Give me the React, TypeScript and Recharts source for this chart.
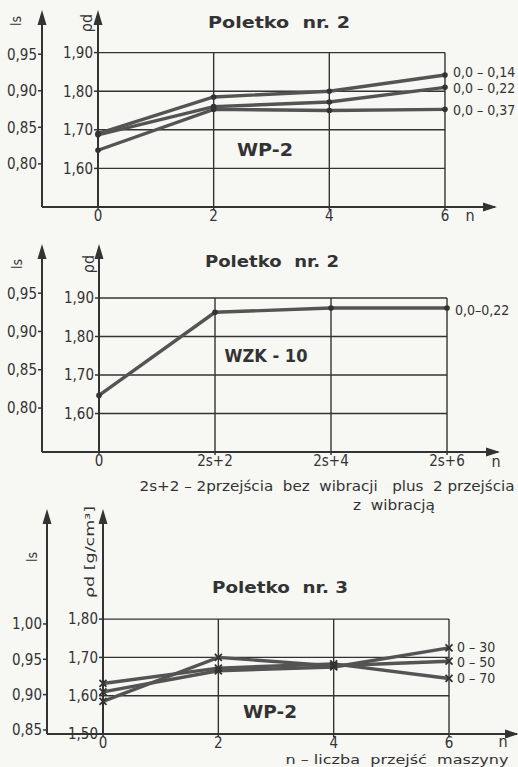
import React from 'react';
import { LineChart, Line, XAxis, YAxis, ReferenceLine, LabelList } from 'recharts';

// n – number of machine passes (x positions of the measurement points)
const passes = [0, 2, 4, 6];
const passLabels = ['0', '2', '4', '6'];
const vibLabels = ['0', '2s+2', '2s+4', '2s+6'];

// Poletko nr. 2, WP-2 (ρd)
const wp2Rho014 = [1.69, 1.785, 1.8, 1.842];
const wp2Rho022 = [1.687, 1.76, 1.772, 1.81];
const wp2Rho037 = [1.647, 1.753, 1.75, 1.753];
const wp2Names = ['0,0 – 0,14', '0,0 – 0,22', '0,0 – 0,37'];

// Poletko nr. 2, WZK-10 (ρd)
const wzkRho022 = [1.647, 1.863, 1.874, 1.874];
const wzkNames = ['0,0–0,22'];

// Poletko nr. 3, WP-2 (ρd)
const p3Rho030 = [1.61, 1.665, 1.675, 1.725];
const p3Rho050 = [1.585, 1.7, 1.678, 1.69];
const p3Rho070 = [1.632, 1.672, 1.683, 1.645];
const p3Names = ['0 – 30', '0 – 50', '0 – 70'];

const rhoTicksA = [1.6, 1.7, 1.8, 1.9];
const lsTicksA = [0.8, 0.85, 0.9, 0.95];
const rhoTicksB = [1.5, 1.6, 1.7, 1.8];
const lsTicksB = [0.85, 0.9, 0.95, 1.0];

const INK = '#333333';
const LINE = '#545454';
const PAPER = '#f7f7f4';
const NARROW = '"DejaVu Sans Condensed", "DejaVu Sans", sans-serif';
const SANS = '"DejaVu Sans", sans-serif';
const X_AXIS_H = 20;

// axis ids: recharts stacks left axes in id order, first one next to the plot
const RHO = 'a-rho';
const LS = 'b-ls';

const comma = (v: number) => v.toFixed(2).replace('.', ',');

type Layout = {
  top: number;
  height: number;
  margin: { top: number; right: number; bottom: number; left: number };
  lsWidth: number;
  rhoWidth: number;
};

const layouts: Layout[] = [
  { top: 0, height: 230, margin: { top: 14, right: 23, bottom: 3, left: 0 }, lsWidth: 42, rhoWidth: 56 },
  { top: 230, height: 280, margin: { top: 18, right: 20, bottom: 38, left: 0 }, lsWidth: 42, rhoWidth: 57 },
  { top: 510, height: 257, margin: { top: 3, right: 1, bottom: 13, left: 0 }, lsWidth: 47, rhoWidth: 56 },
];

type Series = { key: string; values: number[]; name: string; dy: number };

interface PanelProps {
  layout: Layout;
  rhoDomain: [number, number];
  lsDomain: [number, number];
  rhoTicks: number[];
  lsTicks: number[];
  gridTop: number;
  xMax: number;
  xLabels: string[];
  series: Series[];
  cross?: boolean;
}

const dotMark = (p: any) => <circle key={`d${p.index}`} cx={p.cx} cy={p.cy} r={2.8} fill={INK} />;

const crossMark = (p: any) => (
  <path
    key={`c${p.index}`}
    d={`M${p.cx - 3.5},${p.cy - 3.5}L${p.cx + 3.5},${p.cy + 3.5}M${p.cx - 3.5},${p.cy + 3.5}L${p.cx + 3.5},${p.cy - 3.5}`}
    stroke={INK}
    strokeWidth={1.8}
  />
);

const endLabel = (name: string, dy: number) => (p: any) =>
  p.index === passes.length - 1 ? (
    <text
      key="end"
      x={p.x + 8}
      y={p.y + dy}
      fill={INK}
      fontSize={14}
      fontFamily={NARROW}
      dominantBaseline="central"
    >
      {name}
    </text>
  ) : null;

const Panel = (props: PanelProps) => {
  const { layout, rhoDomain, lsDomain, rhoTicks, lsTicks, gridTop, xMax, xLabels, series, cross } = props;
  const { top, height, margin, lsWidth, rhoWidth } = layout;
  const data = passes.map((n, i) => {
    const row: any = { n };
    series.forEach((s) => (row[s.key] = s.values[i]));
    return row;
  });
  const plotW = 518 - margin.left - margin.right - lsWidth - rhoWidth;
  const xStart = (-rhoWidth * xMax) / plotW;
  const base = rhoDomain[0];
  const tickStyle = { fill: INK, fontSize: 15, fontFamily: NARROW };

  return (
    <div style={{ position: 'absolute', left: 0, top }}>
      <LineChart width={518} height={height} data={data} margin={margin}>
        <XAxis
          type="number"
          dataKey="n"
          domain={[0, xMax]}
          ticks={passes}
          interval={0}
          tickFormatter={(v: number) => xLabels[passes.indexOf(v)]}
          axisLine={{ stroke: INK, strokeWidth: 2 }}
          tickLine={{ stroke: INK, strokeWidth: 1.5 }}
          tickSize={3}
          tickMargin={0}
          tick={tickStyle}
          height={X_AXIS_H}
        />
        <YAxis
          yAxisId={RHO}
          domain={rhoDomain}
          ticks={rhoTicks}
          interval={0}
          allowDataOverflow
          width={rhoWidth}
          tickFormatter={comma}
          axisLine={{ stroke: INK, strokeWidth: 2 }}
          tickLine={{ stroke: INK, strokeWidth: 1.5 }}
          tickSize={4}
          tickMargin={1}
          tick={tickStyle}
        />
        <YAxis
          yAxisId={LS}
          domain={lsDomain}
          ticks={lsTicks}
          interval={0}
          allowDataOverflow
          width={lsWidth}
          tickFormatter={comma}
          axisLine={{ stroke: INK, strokeWidth: 2 }}
          tickLine={{ stroke: INK, strokeWidth: 1.5 }}
          tickSize={4}
          tickMargin={1}
          tick={tickStyle}
        />
        {/* baseline continues left to the ls axis */}
        <ReferenceLine
          yAxisId={RHO}
          segment={[{ x: xStart, y: base }, { x: 0, y: base }]}
          ifOverflow="visible"
          stroke={INK}
          strokeWidth={2}
        />
        {rhoTicks
          .filter((v) => v > base)
          .map((v) => (
            <ReferenceLine key={`h${v}`} yAxisId={RHO} segment={[{ x: 0, y: v }, { x: 6, y: v }]} stroke={INK} strokeWidth={1.4} />
          ))}
        {passes.slice(1).map((n) => (
          <ReferenceLine key={`v${n}`} yAxisId={RHO} segment={[{ x: n, y: base }, { x: n, y: gridTop }]} stroke={INK} strokeWidth={1.4} />
        ))}
        {series.map((s) => (
          <Line
            key={s.key}
            yAxisId={RHO}
            type="linear"
            dataKey={s.key}
            stroke={LINE}
            strokeWidth={3.4}
            dot={cross ? crossMark : dotMark}
            activeDot={false}
            isAnimationActive={false}
          >
            <LabelList dataKey={s.key} content={endLabel(s.name, s.dy)} />
          </Line>
        ))}
      </LineChart>
    </div>
  );
};

// arrow heads at the axis ends, from the same layout numbers the charts use
const arrowPaths = layouts.flatMap((l) => {
  const lsX = l.margin.left + l.lsWidth;
  const rhoX = lsX + l.rhoWidth;
  const yTop = l.top + l.margin.top;
  const yBase = l.top + l.height - l.margin.bottom - X_AXIS_H;
  const xEnd = 518 - l.margin.right;
  const up = (x: number) => `M${x},${yTop - 4}L${x + 4.5},${yTop + 11}L${x - 4.5},${yTop + 11}Z`;
  return [up(lsX), up(rhoX), `M${xEnd + 2},${yBase}L${xEnd - 12},${yBase - 4.5}L${xEnd - 12},${yBase + 4.5}Z`];
});

type Note = { x: number; y: number; text: string; size: number; len?: number; rot?: boolean; bold?: boolean };

const notes: Note[] = [
  { x: 279, y: 23, text: 'Poletko  nr. 2', size: 15, len: 142, bold: true },
  { x: 265, y: 150, text: 'WP-2', size: 17, len: 56, bold: true },
  { x: 16, y: 21, text: 'ls', size: 14, rot: true },
  { x: 86, y: 23, text: 'ρd', size: 16, rot: true },
  { x: 470, y: 215, text: 'n', size: 16 },

  { x: 272, y: 262, text: 'Poletko  nr. 2', size: 15, len: 134, bold: true },
  { x: 266, y: 356, text: 'WZK - 10', size: 17, len: 83, bold: true },
  { x: 17, y: 264, text: 'ls', size: 14, rot: true },
  { x: 88, y: 264, text: 'ρd', size: 16, rot: true },
  { x: 496, y: 461, text: 'n', size: 16 },
  { x: 327, y: 486, text: '2s+2 – 2przejścia  bez  wibracji   plus  2 przejścia', size: 14, len: 375 },
  { x: 394, y: 505, text: 'z  wibracją', size: 14, len: 82 },

  { x: 280, y: 588, text: 'Poletko  nr. 3', size: 15, len: 136, bold: true },
  { x: 270, y: 712, text: 'WP-2', size: 17, len: 54, bold: true },
  { x: 32, y: 557, text: 'ls', size: 14, rot: true },
  { x: 89, y: 552, text: 'ρd [g/cm³]', size: 13, len: 92, rot: true },
  { x: 503, y: 741, text: 'n', size: 16 },
  { x: 397, y: 759, text: 'n – liczba  przejść  maszyny', size: 13, len: 223 },
];

export default function App() {
  return (
    <div style={{ position: 'absolute', left: 0, top: 0, width: 518, height: 767, background: PAPER, overflow: 'hidden' }}>
      <Panel
        layout={layouts[0]}
        rhoDomain={[1.5, 2.0]}
        lsDomain={[0.741, 1.005]}
        rhoTicks={rhoTicksA}
        lsTicks={lsTicksA}
        gridTop={1.9}
        xMax={6.865}
        xLabels={passLabels}
        series={[
          { key: 'a', values: wp2Rho014, name: wp2Names[0], dy: -3 },
          { key: 'b', values: wp2Rho022, name: wp2Names[1], dy: 1 },
          { key: 'c', values: wp2Rho037, name: wp2Names[2], dy: 1 },
        ]}
      />
      <Panel
        layout={layouts[1]}
        rhoDomain={[1.5, 2.03]}
        lsDomain={[0.7426, 1.009]}
        rhoTicks={rhoTicksA}
        lsTicks={lsTicksA}
        gridTop={1.9}
        xMax={6.879}
        xLabels={vibLabels}
        series={[{ key: 'a', values: wzkRho022, name: wzkNames[0], dy: 2 }]}
      />
      <Panel
        layout={layouts[2]}
        rhoDomain={[1.5, 2.077]}
        lsDomain={[0.8443, 1.157]}
        rhoTicks={rhoTicksB}
        lsTicks={lsTicksB}
        gridTop={1.8}
        xMax={7.179}
        xLabels={passLabels}
        cross
        series={[
          { key: 'a', values: p3Rho030, name: p3Names[0], dy: -1 },
          { key: 'b', values: p3Rho050, name: p3Names[1], dy: 1 },
          { key: 'c', values: p3Rho070, name: p3Names[2], dy: 0 },
        ]}
      />

      <svg width={518} height={767} style={{ position: 'absolute', left: 0, top: 0, pointerEvents: 'none' }}>
        {arrowPaths.map((d, i) => (
          <path key={`a${i}`} d={d} fill={INK} />
        ))}
        {notes.map((t, i) => (
          <text
            key={i}
            x={t.x}
            y={t.y}
            fill={INK}
            fontSize={t.size}
            fontFamily={t.bold ? SANS : NARROW}
            fontWeight={t.bold ? 'bold' : 'normal'}
            textAnchor="middle"
            dominantBaseline="central"
            textLength={t.len}
            lengthAdjust={t.len ? 'spacingAndGlyphs' : undefined}
            transform={t.rot ? `rotate(-90 ${t.x} ${t.y})` : undefined}
            style={{ whiteSpace: 'pre' }}
          >
            {t.text}
          </text>
        ))}
      </svg>
    </div>
  );
}
